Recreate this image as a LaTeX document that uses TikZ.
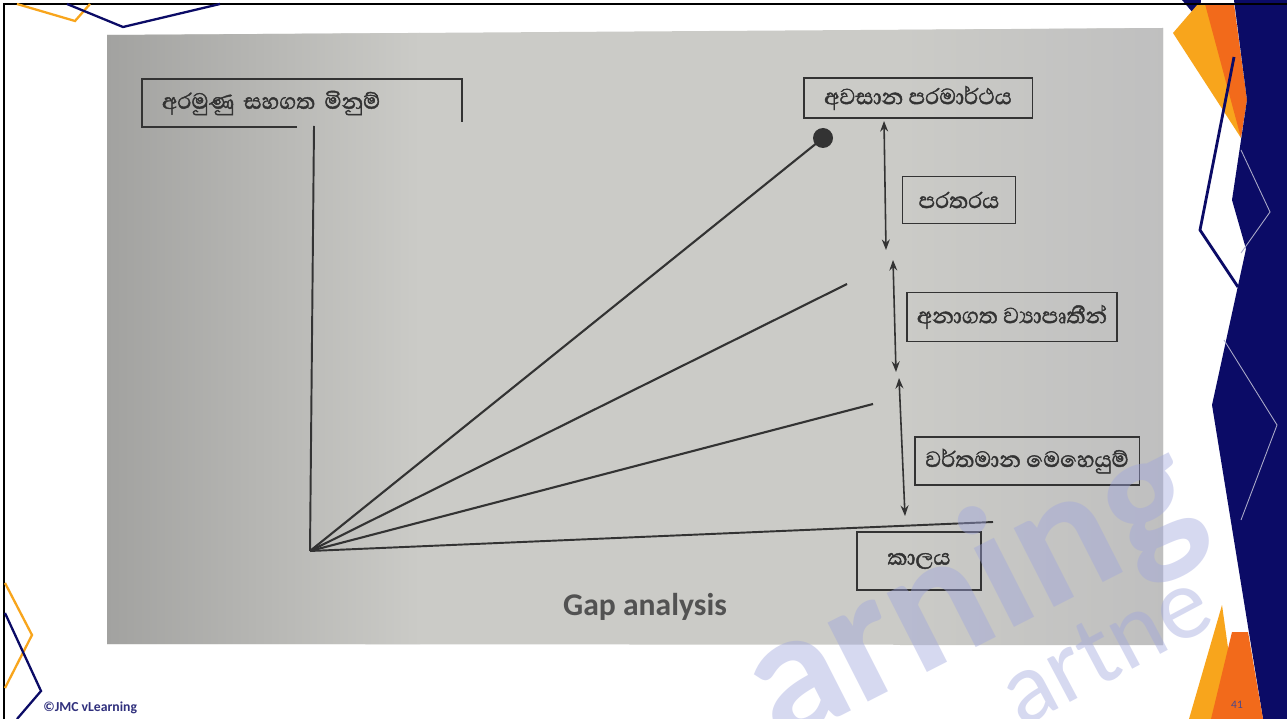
\documentclass[tikz,border=0pt]{standalone}
\usepackage{fontspec}
\setmainfont{Carlito}
\newfontfamily\sinfont[Script=Sinhala,FakeBold=1.6]{Abhaya Libre}
\usetikzlibrary{arrows.meta,positioning}
\definecolor{ink}{HTML}{333333}
\definecolor{photo}{HTML}{CBCBC7}
\definecolor{photoedge}{HTML}{A2A2A0}
\definecolor{navy}{HTML}{0B0B66}
\definecolor{lorange}{HTML}{F8A51C}
\definecolor{dorange}{HTML}{F26A1B}
\definecolor{mark}{HTML}{9FA5DD}
\tikzset{%
  box/.style={rectangle,draw=ink,line width=1.1pt,inner sep=0pt,text=ink,font=\sinfont\fontsize{16}{18}\selectfont},
  axis/.style={draw=ink,line width=1.1pt},
  ray/.style={draw=ink,line width=1.2pt},
  span/.style={{Stealth[length=6pt,width=4.5pt]}-{Stealth[length=6pt,width=4.5pt]},draw=ink,line width=0.9pt},
  deco/.style={line width=1.3pt,line join=miter},
  wmark/.style={text=mark,text opacity=0.42,inner sep=0pt}%
}
\begin{document}
\begin{tikzpicture}[x=0.02cm,y=-0.02cm]
  \useasboundingbox (0,0) rectangle (1287,719);
  \clip (0,0) rectangle (1287,719);
  \fill[white] (0,0) rectangle (1287,719);

  % photo of the printed page
  \fill[photo] (107,35) -- (1163,28) -- (1163,645) -- (107,644) -- cycle;
  \shade[left color=photoedge,right color=photo] (107,35) -- (420,33) -- (420,644) -- (107,644) -- cycle;
  \shade[left color=photo,right color=black!25] (900,30) -- (1163,28) -- (1163,645) -- (900,645) -- cycle;

  % boxes
  \node[box,draw=none,minimum width=6.36cm,minimum height=0.92cm,text width=5.6cm,inner xsep=0.38cm,align=left] (aim) at (302,103) {අරමුණු සහගත මිනුම්};
  \draw[axis] ([xshift=-0.1cm]aim.south) -- (aim.south west) -- (aim.north west) -- (aim.north east) -- ([yshift=0.1cm]aim.south east);
  \node[box,minimum width=4.58cm,minimum height=0.8cm] (final) at (918,98) {අවසාන පරමාර්ථය};
  \node[box,minimum width=2.26cm,minimum height=0.94cm] (gap) at (959,200) {පරතරය};
  \node[box,minimum width=4.2cm,minimum height=0.98cm] (future) at (1012,317) {අනාගත ව්^^^^200dයාපෘතීන්};
  \node[box,minimum width=4.5cm,minimum height=0.96cm] (current) at (1027,461) {වර්තමාන මෙහෙයුම්};
  \node[box,minimum width=2.48cm,minimum height=1.16cm] (time) at (919,561) {කාලය};
  \node[circle,fill=ink,minimum size=0.4cm,inner sep=0pt] (target) at (823,138) {};

  % axes and rays
  \coordinate (origin) at (310,551);
  \coordinate (v_top) at (314,126);
  \coordinate (t_end) at (993,522);
  \coordinate (fut_end) at (847,284);
  \coordinate (cur_end) at (873,404);
  \path (origin) edge[axis] (v_top)
        (origin) edge[axis] (t_end);
  \path (origin) edge[ray] (target.center)
        (origin) edge[ray] (fut_end)
        (origin) edge[ray] (cur_end);

  % gaps
  \coordinate (gap_a) at (884,121);
  \coordinate (gap_b) at (886,250);
  \coordinate (fut_a) at (893,260);
  \coordinate (fut_b) at (896,372);
  \coordinate (cur_a) at (899,378);
  \coordinate (cur_b) at (905,516);
  \path (gap_a) edge[span] (gap_b)
        (fut_a) edge[span] (fut_b)
        (cur_a) edge[span] (cur_b);

  \node[text=black!68,font=\bfseries\fontsize{18}{20}\selectfont] (title) at (645,607) {Gap analysis};

  % watermark
  \node[wmark,rotate=27,font=\bfseries\fontsize{104}{104}\selectfont] (wm_a) at (972,595) {arning};
  \node[wmark,rotate=28,font=\fontsize{58}{58}\selectfont] (wm_b) at (1105,648) {artne};

  % slide theme
  \fill[navy] (1182,0) -- (1201,0) -- (1199,20) -- cycle;
  \fill[lorange] (1173,33) -- (1198,4) -- (1214,4) -- (1241,138) -- cycle;
  \fill[dorange] (1205,4) -- (1234,4) -- (1247,100) -- (1241,138) -- cycle;
  \fill[navy] (1234,0) -- (1287,0) -- (1287,719) -- (1263,719) -- (1212,405) -- (1246,249) -- (1232,200) -- (1247,100) -- cycle;
  \fill[lorange] (1222,605) -- (1189,719) -- (1212,719) -- (1229,655) -- cycle;
  \fill[dorange] (1232,632) -- (1211,719) -- (1263,719) -- (1248,632) -- cycle;
  \draw[navy,line width=1.6pt] (1234,57) -- (1200,230) -- (1238,287);
  \draw[white!65!navy,line width=0.5pt] (1241,150) -- (1270,212) -- (1241,253);
  \draw[white!65!navy,line width=0.5pt] (1224,340) -- (1277,425) -- (1241,520);

  \draw[black,line width=1.7pt] (4,719) -- (4,4) -- (1287,4);
  \draw[lorange,deco] (17,4) -- (75,21) -- (90,4);
  \draw[navy,deco] (67,4) -- (123,27) -- (220,4);
  \draw[lorange,deco] (5,583) -- (32,635) -- (5,688);
  \draw[navy,deco] (5,613) -- (41,691) -- (17,719);

  \node[anchor=west,inner sep=0pt,text=navy!85,font=\bfseries\fontsize{7.8}{9}\selectfont] (copy) at (43,708) {©JMC vLearning};
  \node[text=navy!75,font=\fontsize{6.5}{8}\selectfont] (page) at (1237,705) {41};
\end{tikzpicture}
\end{document}
